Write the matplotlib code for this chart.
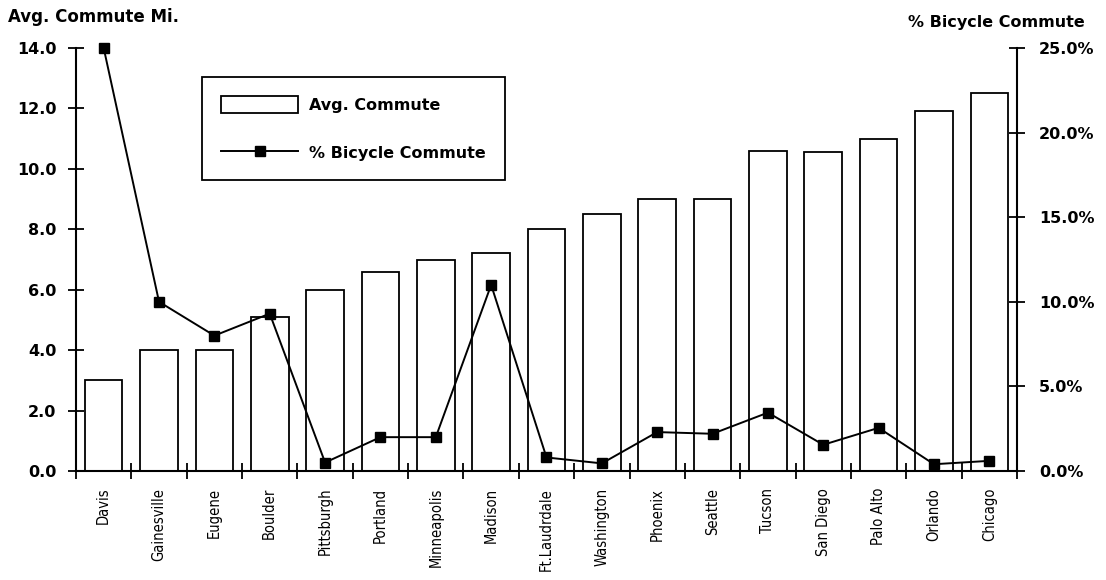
import matplotlib
matplotlib.use("Agg")
import matplotlib.pyplot as plt
from matplotlib.patches import Patch
from matplotlib.lines import Line2D
from matplotlib.ticker import FixedLocator, FuncFormatter

cities = ["Davis", "Gainesville", "Eugene", "Boulder", "Pittsburgh", "Portland",
          "Minneapolis", "Madison", "Ft.Laudrdale", "Washington", "Phoenix",
          "Seattle", "Tucson", "San Diego", "Palo Alto", "Orlando", "Chicago"]
avg_commute = [3.0, 4.0, 4.0, 5.1, 6.0, 6.6, 7.0, 7.2, 8.0, 8.5, 9.0, 9.0,
               10.6, 10.55, 11.0, 11.9, 12.5]
pct_bicycle = [25.0, 10.0, 8.0, 9.3, 0.5, 2.0, 2.0, 11.0, 0.8, 0.45, 2.3,
               2.2, 3.45, 1.55, 2.55, 0.4, 0.6]
left_ticks = [0, 2, 4, 6, 8, 10, 12, 14]
right_ticks = [0, 5, 10, 15, 20, 25]

FS = 11.5
bold = dict(family="DejaVu Sans", weight="bold")

fig = plt.figure(figsize=(11.06, 5.8), dpi=100)
ax = fig.add_axes([76/1106, 1-471/580, (1017-76)/1106, (471-48)/580])
ax2 = ax.twinx()

x = list(range(len(cities)))
ax.bar(x, avg_commute, width=0.68, facecolor="white", edgecolor="black",
       linewidth=1.3, zorder=2)
ax2.plot(x, pct_bicycle, color="black", linewidth=1.4, marker="s",
         markersize=7, zorder=3, clip_on=False)

ax.set_xlim(-0.5, len(cities) - 0.5)
ax.set_ylim(0, 14)
ax2.set_ylim(0, 25)

for s in ["top", "right"]:
    ax.spines[s].set_visible(False)
for s in ["top", "left", "bottom"]:
    ax2.spines[s].set_visible(False)
for sp in [ax.spines["left"], ax.spines["bottom"], ax2.spines["right"]]:
    sp.set_linewidth(1.5)

ax.set_yticks(left_ticks)
ax.set_yticklabels([f"{v:.1f}" for v in left_ticks], fontsize=FS, **bold)
ax.tick_params(axis="y", direction="inout", length=12, width=1.3, pad=8)

ax2.yaxis.set_major_locator(FixedLocator(right_ticks))
ax2.yaxis.set_major_formatter(FuncFormatter(lambda v, p: f"{v:.1f}%"))
ax2.tick_params(axis="y", direction="inout", length=12, width=1.3, pad=10,
                labelsize=FS)
for lab in ax2.get_yticklabels():
    lab.set_fontweight("bold")
    lab.set_fontfamily("DejaVu Sans")

ax.set_xticks(x)
ax.set_xticklabels(cities, rotation=90, fontsize=10.5,
                   family="DejaVu Sans", stretch="condensed")
ax.tick_params(axis="x", which="major", length=0, pad=12)
ax.set_xticks([i - 0.5 for i in range(len(cities) + 1)], minor=True)
ax.tick_params(axis="x", which="minor", direction="inout", length=12, width=1.3)

fig.text(8/1106, 1-17/580, "Avg. Commute Mi.", fontsize=12, va="center",
         ha="left", **bold)
fig.text(1085/1106, 1-22/580, "% Bicycle Commute", fontsize=FS, va="center",
         ha="right", **bold)

handles = [Patch(facecolor="white", edgecolor="black", linewidth=1.3),
           Line2D([], [], color="black", linewidth=1.4, marker="s", markersize=7)]
leg = fig.legend(handles, ["Avg. Commute", "% Bicycle Commute"],
                 loc="upper left", bbox_to_anchor=(202/1106, 1-77/580),
                 fancybox=False, edgecolor="black", framealpha=1,
                 prop=dict(family="DejaVu Sans", weight="bold", size=FS),
                 handlelength=4.8, handleheight=1.2, borderpad=1.2,
                 labelspacing=2.0, handletextpad=0.7, borderaxespad=0)
leg.get_frame().set_linewidth(1.3)

fig.savefig("out.png", dpi=100)
